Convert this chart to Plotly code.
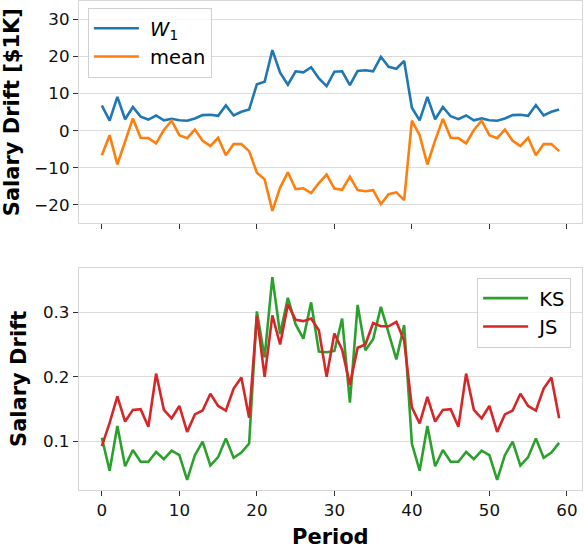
import plotly.graph_objects as go
from plotly.subplots import make_subplots

periods = list(range(60))

w1 = [6.8, 2.7, 9.1, 3.1, 6.4, 3.8, 3.0, 4.1, 2.8, 3.2,
      2.8, 2.7, 3.3, 4.2, 4.3, 4.0, 6.8, 4.1, 5.1, 5.7,
      12.5, 13.2, 21.7, 15.6, 12.4, 16.0, 15.7, 17.1, 14.1, 12.0,
      15.9, 16.0, 12.3, 16.1, 16.3, 16.0, 19.9, 17.2, 16.7, 18.8,
      6.2, 2.8, 9.1, 3.1, 6.4, 3.9, 3.1, 4.1, 2.8, 3.3,
      2.8, 2.7, 3.3, 4.2, 4.3, 4.0, 6.9, 4.1, 5.1, 5.7]

mean = [-6.6, -1.2, -9.1, -2.6, 3.3, -1.9, -2.0, -3.4, 0.2, 2.7,
        -1.2, -2.0, 0.3, -2.7, -4.1, -1.9, -6.6, -3.6, -3.6, -5.5,
        -11.3, -13.1, -21.6, -15.3, -11.2, -15.7, -15.5, -16.8, -14.1, -11.8,
        -15.6, -15.9, -12.4, -16.0, -16.3, -16.0, -19.8, -17.1, -16.6, -18.7,
        2.7, -1.2, -9.1, -2.6, 3.2, -1.9, -2.0, -3.4, 0.2, 2.7,
        -1.2, -2.0, 0.3, -2.7, -4.1, -1.9, -6.6, -3.6, -3.6, -5.5]

ks = [0.106, 0.055, 0.124, 0.062, 0.087, 0.069, 0.069, 0.084, 0.073, 0.086,
      0.079, 0.041, 0.079, 0.100, 0.063, 0.076, 0.105, 0.075, 0.083, 0.097,
      0.301, 0.230, 0.354, 0.266, 0.322, 0.281, 0.259, 0.315, 0.239, 0.238,
      0.240, 0.290, 0.160, 0.311, 0.241, 0.258, 0.308, 0.268, 0.227, 0.280,
      0.097, 0.055, 0.124, 0.062, 0.087, 0.069, 0.069, 0.084, 0.073, 0.086,
      0.079, 0.041, 0.079, 0.100, 0.063, 0.076, 0.105, 0.075, 0.083, 0.098]

js = [0.093, 0.129, 0.170, 0.131, 0.149, 0.150, 0.123, 0.205, 0.149, 0.136,
      0.155, 0.115, 0.142, 0.148, 0.174, 0.155, 0.148, 0.182, 0.199, 0.137,
      0.294, 0.200, 0.295, 0.250, 0.312, 0.288, 0.286, 0.290, 0.272, 0.200,
      0.267, 0.242, 0.188, 0.245, 0.250, 0.283, 0.278, 0.278, 0.285, 0.256,
      0.153, 0.128, 0.169, 0.131, 0.149, 0.150, 0.123, 0.205, 0.149, 0.136,
      0.155, 0.115, 0.142, 0.148, 0.174, 0.155, 0.148, 0.182, 0.199, 0.136]

FONT = "DejaVu Sans"
SPINE = "#d6d6d6"
GRID = "#dcdcdc"
NB = "\u00a0"

fig = make_subplots(rows=2, cols=1, shared_xaxes=True, vertical_spacing=0.0908)

fig.add_trace(go.Scatter(x=periods, y=w1, mode="lines", name=NB + "<i>W</i><sub>1</sub>",
                         line=dict(color="#1f77b4", width=2.6), legend="legend"), row=1, col=1)
fig.add_trace(go.Scatter(x=periods, y=mean, mode="lines", name=NB + "mean",
                         line=dict(color="#ff7f0e", width=2.6), legend="legend"), row=1, col=1)
fig.add_trace(go.Scatter(x=periods, y=ks, mode="lines", name=NB + "KS",
                         line=dict(color="#2ca02c", width=2.6), legend="legend2"), row=2, col=1)
fig.add_trace(go.Scatter(x=periods, y=js, mode="lines", name=NB + "JS",
                         line=dict(color="#d62728", width=2.6), legend="legend2"), row=2, col=1)

axis_common = dict(showline=True, linecolor=SPINE, linewidth=1.3, mirror=True,
                   ticks="outside", ticklen=5, tickwidth=1.2, tickcolor="#333333",
                   tickfont=dict(family=FONT, size=16.7, color="#111111"), zeroline=False,
                   automargin=False)

fig.update_xaxes(range=[-2.95, 61.95], dtick=10, tick0=0, showgrid=False, **axis_common)
fig.update_xaxes(showticklabels=False, row=1, col=1)

fig.update_yaxes(showgrid=True, gridcolor=GRID, gridwidth=1.2, **axis_common)
fig.update_yaxes(range=[-24.93, 34.93], dtick=10, tick0=0,
                 title=dict(text="<b>Salary Drift [$1K]</b>", font=dict(family=FONT, size=21, color="#000000"),
                            standoff=10), row=1, col=1)
fig.update_yaxes(range=[0.0253, 0.3685], dtick=0.1, tick0=0, tickformat=".1f",
                 title=dict(text="<b>Salary Drift</b>", font=dict(family=FONT, size=21, color="#000000"),
                            standoff=10), row=2, col=1)

fig.add_annotation(text="<b>Period</b>", xref="paper", yref="paper", x=0.5, y=-0.097,
                   xanchor="center", yanchor="middle", showarrow=False,
                   font=dict(family=FONT, size=21, color="#000000"))

legend_common = dict(bgcolor="rgba(255,255,255,0.8)", bordercolor="#d0d0d0", borderwidth=1.2,
                     font=dict(family=FONT, size=19.5, color="#000000"), itemwidth=45,
                     xref="paper", yref="paper")

fig.update_layout(
    width=584, height=546,
    margin=dict(l=79, r=2, t=1, b=56),
    paper_bgcolor="white", plot_bgcolor="white",
    font=dict(family=FONT),
    legend=dict(x=0.0173, y=0.986, xanchor="left", yanchor="top", **legend_common),
    legend2=dict(x=0.978, y=0.434, xanchor="right", yanchor="top", **legend_common),
)

fig.write_html("out.html", config={"displayModeBar": False},
               post_script="document.body.style.margin='0';document.body.style.overflow='hidden';")
